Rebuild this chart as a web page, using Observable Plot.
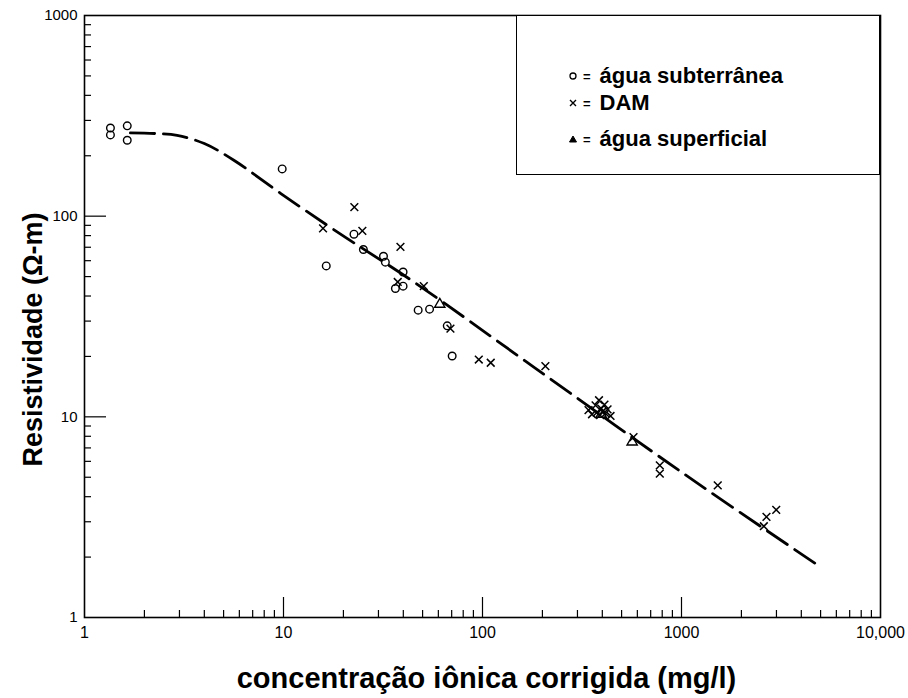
<!DOCTYPE html>
<html><head><meta charset="utf-8">
<script src="https://cdn.jsdelivr.net/npm/d3@7"></script>
<script src="https://cdn.jsdelivr.net/npm/@observablehq/plot@0.6"></script>
<style>
body{margin:0;background:#fff;}
#wrap{position:relative;width:908px;height:698px;}
#legend{position:absolute;left:516px;top:15px;width:364px;height:160px;border:1.5px solid #000;box-sizing:border-box;background:#fff;font-family:"Liberation Sans",Arial,sans-serif;font-weight:bold;font-size:22px;color:#000;}
#legend .row{position:absolute;left:50px;display:flex;align-items:center;height:26px;}
#legend .eq{font-size:13px;margin:0 9px 0 4px;}
</style></head><body><div id="wrap"></div>
<script>
// ground water (circles)
const groundX = [1.35, 1.35, 1.64, 1.64, 9.85, 16.4, 22.6, 25.2, 31.8, 32.5, 39.9, 36.5, 39.9, 47.5, 54.2, 66.5, 70.4];
const groundY = [275, 254, 282, 239, 172, 56.5, 81.3, 68.2, 63.1, 59, 52.7, 43.6, 44.8, 34, 34.4, 28.4, 20.1];
// DAM (crosses)
const damX = [15.8, 22.7, 24.9, 38.7, 37.5, 50.7, 69, 95.8, 110, 207,
  341, 355, 370, 375, 385, 390, 395, 400, 410, 415, 425, 440,
  574, 778, 778, 1521, 2593, 2673, 2992];
const damY = [86.9, 111, 84.5, 70.3, 47, 44.8, 27.5, 19.3, 18.6, 17.9,
  10.8, 10.3, 11.4, 10.5, 12.1, 10.2, 11.0, 10.6, 11.5, 10.4, 10.9, 10.1,
  7.93, 5.73, 5.21, 4.55, 2.85, 3.17, 3.44];
// surface water (triangles)
const surfX = [61, 565, 395];
const surfY = [36.4, 7.49, 10.3];
// fitted dashed curve
const curveX = [1.7, 2.3, 2.92, 4, 5.63, 9.66, 18.6, 45.2, 181, 1000, 4700];
const curveY = [260, 258, 253, 230, 190, 130, 83.5, 47, 17.7, 5.3, 1.86];
// axis ticks
const xTicks = [1, 10, 100, 1000, 10000];
const xTickLabels = ["1", "10", "100", "1000", "10,000"];
const yTicks = [1, 10, 100, 1000];
const yTickLabels = ["1", "10", "100", "1000"];
const xMajor = [10, 100, 1000];
const xMinor = [2,3,4,5,6,7,8,9,20,30,40,50,60,70,80,90,200,300,400,500,600,700,800,900,2000,3000,4000,5000,6000,7000,8000,9000];
const yMajor = [10, 100];
const yMinor = [2,3,4,5,6,7,8,9,20,30,40,50,60,70,80,90,200,300,400,500,600,700,800,900];
const xLabel = "concentração iônica corrigida (mg/l)";
const yLabel = "Resistividade (Ω-m)";
const legendItems = ["água subterrânea", "DAM", "água superficial"];

const ground = groundX.map((x, i) => ({x, y: groundY[i]}));
const dam = damX.map((x, i) => ({x, y: damY[i]}));
const surf = surfX.map((x, i) => ({x, y: surfY[i]}));
const curve = curveX.map((x, i) => ({x, y: curveY[i]}));
const xMap = new Map(xTicks.map((t, i) => [t, xTickLabels[i]]));
const yMap = new Map(yTicks.map((t, i) => [t, yTickLabels[i]]));

const W = 908, H = 698, mL = 84, mR = 28, mT = 15, mB = 81;
const pw = W - mL - mR, ph = H - mT - mB;

const chart = Plot.plot({
  width: W, height: H,
  marginLeft: mL, marginRight: mR, marginTop: mT, marginBottom: mB,
  style: {background: "#fff", color: "#000", fontFamily: "'Liberation Sans', Arial, sans-serif"},
  x: {type: "log", domain: [1, 10000], axis: null},
  y: {type: "log", domain: [1, 1000], axis: null},
  marks: [
    Plot.tickY(yMinor, {y: d => d, stroke: "#000", strokeWidth: 1.2, insetRight: pw - 7}),
    Plot.tickY(yMajor, {y: d => d, stroke: "#000", strokeWidth: 1.2, insetRight: pw - 22}),
    Plot.tickX(xMinor, {x: d => d, stroke: "#000", strokeWidth: 1.2, insetTop: ph - 7}),
    Plot.tickX(xMajor, {x: d => d, stroke: "#000", strokeWidth: 1.2, insetTop: ph - 20}),
    Plot.frame({stroke: "#000", strokeWidth: 1.6}),
    Plot.axisX({ticks: xTicks, tickFormat: d => xMap.get(d), tickSize: 0, tickPadding: 9, label: null, fontSize: 16, fontFamily: "'Liberation Sans Narrow', 'Liberation Sans', sans-serif"}),
    Plot.axisY({ticks: yTicks, tickFormat: d => yMap.get(d), tickSize: 0, tickPadding: 7, label: null, fontSize: 15}),
    Plot.line(curve, {x: "x", y: "y", curve: "catmull-rom", stroke: "#000", strokeWidth: 2.8, strokeDasharray: "24,9"}),
    Plot.dot(ground, {x: "x", y: "y", symbol: "circle", r: 3.8, stroke: "#000", strokeWidth: 1.4, fill: "none"}),
    Plot.dot(dam, {x: "x", y: "y", symbol: "times", r: 3.6, stroke: "#000", strokeWidth: 1.5}),
    Plot.dot(surf, {x: "x", y: "y", symbol: "triangle", r: 3.8, stroke: "#000", strokeWidth: 1.4, fill: "none"}),
    Plot.text([yLabel], {frameAnchor: "left", textAnchor: "middle", lineAnchor: "middle", rotate: -90, dx: -51, dy: 23, fontSize: 27, fontWeight: "bold", fill: "#000"}),
    Plot.text([xLabel], {frameAnchor: "bottom", textAnchor: "middle", lineAnchor: "middle", dx: 4, dy: 61, fontSize: 29, fontWeight: "bold", fill: "#000"})
  ]
});
const wrap = document.getElementById("wrap");
wrap.appendChild(chart);

// legend
const leg = document.createElement("div");
leg.id = "legend";
const symbols = [
  '<svg width="12" height="12"><circle cx="6" cy="6" r="3" fill="none" stroke="#000" stroke-width="1.3"/></svg>',
  '<svg width="12" height="12"><path d="M3,3L9,9M9,3L3,9" stroke="#000" stroke-width="1.4"/></svg>',
  '<svg width="12" height="12"><path d="M6,3L9.5,9H2.5Z" fill="#000" stroke="#000" stroke-width="1"/></svg>'
];
const rowCenters = [60, 87, 123];
legendItems.forEach((t, i) => {
  const r = document.createElement("div");
  r.className = "row";
  r.style.top = (rowCenters[i] - 13) + "px";
  r.innerHTML = symbols[i] + '<span class="eq">=</span><span>' + t + '</span>';
  leg.appendChild(r);
});
wrap.appendChild(leg);
</script></body></html>
